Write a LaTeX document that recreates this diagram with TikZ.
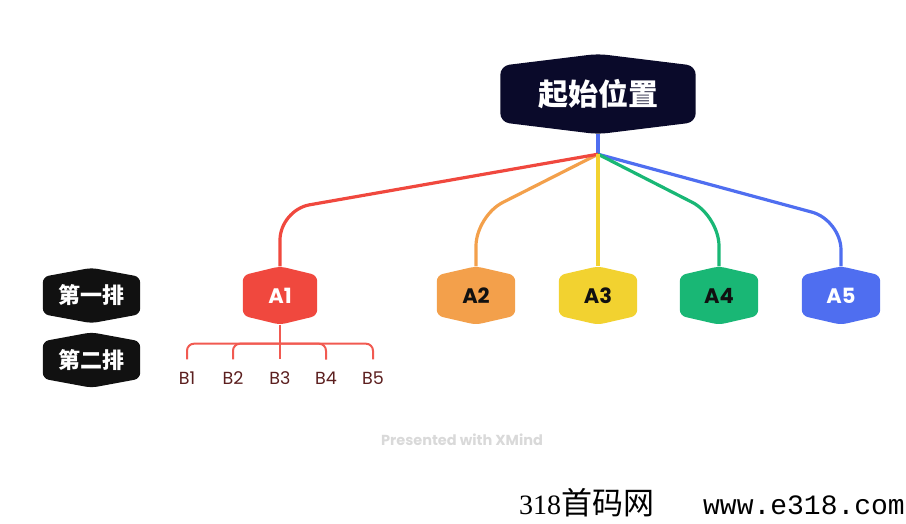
\documentclass[tikz,border=0pt]{standalone}
\usepackage{fontspec}
\setmainfont{Poppins}
\newfontfamily\cjkfont{Noto Sans CJK SC}
\newfontfamily\wmserif{Liberation Serif}
\newfontfamily\wmmono{Liberation Mono}
\usetikzlibrary{calc,backgrounds}
\definecolor{navy}{RGB}{10,10,42}
\definecolor{ink}{RGB}{17,17,17}
\definecolor{cred}{RGB}{240,72,62}
\definecolor{corange}{RGB}{243,160,75}
\definecolor{cyellow}{RGB}{242,210,48}
\definecolor{cgreen}{RGB}{25,183,117}
\definecolor{cblue}{RGB}{79,110,240}
\definecolor{bink}{RGB}{92,31,31}
\definecolor{xgray}{gray}{0.85}

\begin{document}
\begin{tikzpicture}[
  x=1pt,y=-1pt,
  central/.style={inner sep=0pt,minimum width=195pt,minimum height=80pt,text=white,
                  font=\cjkfont\fontsize{30}{30}\selectfont\bfseries},
  rowtag/.style={inner sep=0pt,minimum width=97pt,minimum height=55pt,text=white,
                 font=\cjkfont\fontsize{22}{22}\selectfont\bfseries},
  topic/.style={inner sep=0pt,minimum width=78pt,minimum height=58pt,
                font=\fontsize{21}{21}\selectfont\bfseries},
  leaf/.style={inner xsep=2pt,inner ysep=12.5pt,text=bink,
               font=\fontsize{17.5}{17.5}\selectfont},
  branch/.style={line width=3.2pt,rounded corners=30pt},
  twig/.style={line width=2pt,cred!90!white,rounded corners=7pt},
  credit/.style={text=xgray,font=\fontsize{14.5}{14.5}\selectfont\bfseries},
]
\useasboundingbox (0,0) rectangle (906,523);

% ---- topics ----
\node[central] (root) at (598,94) {起始位置};

\node[rowtag] (row1) at (91.5,295.5) {第一排};
\node[rowtag] (row2) at (91.5,360) {第二排};

\node[topic,minimum width=74pt,text=white] (A1) at (280,295.5) {A1};
\node[topic,text=ink]   (A2) at (476,295.5) {A2};
\node[topic,text=ink]   (A3) at (598,295.5) {A3};
\node[topic,text=ink]   (A4) at (719,295.5) {A4};
\node[topic,text=white] (A5) at (841,295.5) {A5};

\foreach \i/\x in {1/187,2/233,3/280,4/326,5/373}{
  \node[leaf] (B\i) at (\x,378.5) {B\i};
}

% ---- hexagon bodies behind the texts ----
\begin{scope}[on background layer]
\foreach \n/\c/\s/\r in {root/navy/12/9pt,row1/ink/9/6pt,row2/ink/9/6pt,
                         A1/cred/9/6pt,A2/corange/9/6pt,A3/cyellow/9/6pt,
                         A4/cgreen/9/6pt,A5/cblue/9/6pt}{
  \fill[\c,rounded corners=\r] ($(\n.north west)+(0,\s)$) -- (\n.north)
    -- ($(\n.north east)+(0,\s)$) -- ($(\n.south east)-(0,\s)$)
    -- (\n.south) -- ($(\n.south west)-(0,\s)$) -- cycle;
}
\end{scope}

% ---- branches ----
\coordinate (fork) at ($(root.south)+(0,20)$);
\draw[line width=3.2pt,cblue] (root.south) -- (fork);
\foreach \n/\c/\y in {A5/cblue/220,A4/cgreen/216,A2/corange/216,A1/cred/210}{
  \draw[branch,\c] (fork) -- (\n.north |- 0,\y) -- (\n.north);
}
\draw[branch,cyellow] (fork) -- (A3.north);

% second row under A1
\coordinate (bus) at ($(A1.south)+(0,19)$);
\draw[twig] (A1.south) -- (B3.north);
\foreach \i in {1,2,4,5}{
  \draw[twig] (bus) -- (bus -| B\i.north) -- (B\i.north);
}

% ---- footer texts ----
\node[credit] (xmind) at (462,440) {Presented with XMind};
\node[anchor=base west,inner sep=0pt] (wm) at (519,514)
  {{\wmserif\fontsize{28}{28}\selectfont 318}{\cjkfont\fontsize{31}{31}\selectfont 首码网}};
\node[anchor=base east,inner sep=0pt] (site) at (905,514)
  {\wmmono\fontsize{28}{28}\selectfont www.e318.com};

\end{tikzpicture}
\end{document}
